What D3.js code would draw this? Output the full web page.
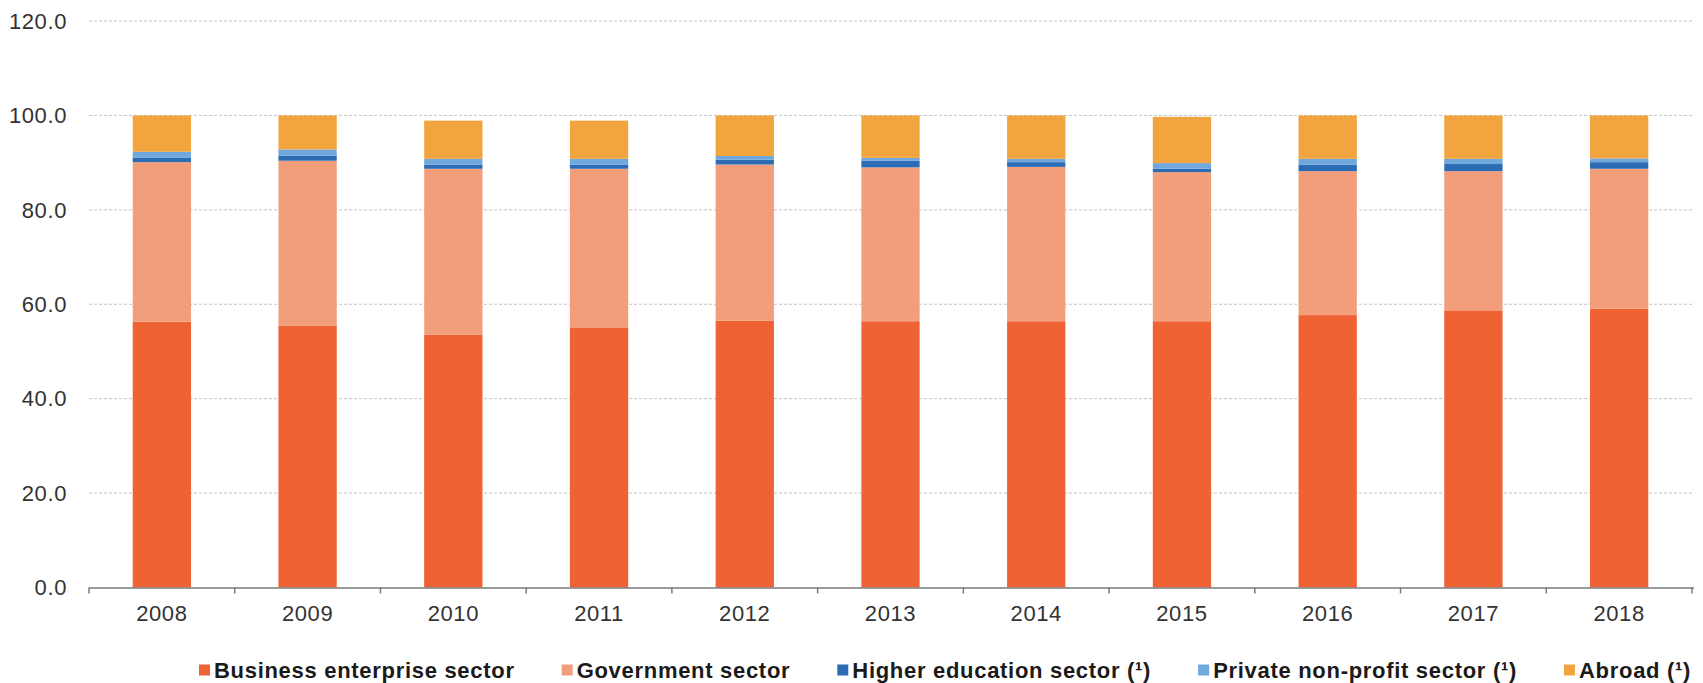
<!DOCTYPE html>
<html>
<head>
<meta charset="utf-8">
<script src="https://cdn.jsdelivr.net/npm/d3@7"></script>
<style>
    body { margin: 0; background: #ffffff; }
    svg text { font-family: "Liberation Sans", Arial, sans-serif; }
    .grid line { stroke: #c4c4c4; stroke-dasharray: 3,2; stroke-width: 1; }
    .tickLabel { font-size: 22px; fill: #333333; letter-spacing: 0.6px; }
    .legendLabel { font-size: 22px; font-weight: bold; fill: #1a1a1a; letter-spacing: 0.7px; }
</style>
</head>
<body>
<svg id="chart" width="1703" height="683"></svg>
<script>

// Years on the x axis
var years = ["2008", "2009", "2010", "2011", "2012", "2013", "2014", "2015", "2016", "2017", "2018"];

// Share (%) of each sector
var business   = [56.3, 55.5, 53.6, 55.1, 56.5, 56.4, 56.4, 56.4, 57.7, 58.7, 59.1];
var government = [33.8, 34.9, 35.1, 33.6, 33.1, 32.6, 32.7, 31.6, 30.5, 29.5, 29.6];
var higherEdu  = [0.9, 1.1, 0.9, 0.9, 1.0, 1.4, 1.0, 0.7, 1.4, 1.5, 1.4];
var privateNp  = [1.3, 1.3, 1.2, 1.2, 0.8, 0.6, 0.7, 1.2, 1.2, 1.1, 0.8];
var abroad     = [7.7, 7.2, 8.1, 8.1, 8.6, 9.0, 9.2, 9.8, 9.2, 9.2, 9.1];

var seriesNames = ["Business enterprise sector", "Government sector",
    "Higher education sector (\u00B9)", "Private non-profit sector (\u00B9)", "Abroad (\u00B9)"];
var seriesColors = ["#ee6234", "#f29e7a", "#2b6cb5", "#70a7dc", "#f2a53e"];

var yTicks = [0, 20, 40, 60, 80, 100, 120];


function drawChart() {

    var svg = d3.select("#chart");

    var left = 89,
        right = 1692,
        top = 21,
        bottom = 587.5;

    // build rows for the stack layout
    var keys = ["business", "government", "higher", "private", "abroad"];
    var rows = years.map(function (y, i) {
        return {
            year: y,
            business: business[i],
            government: government[i],
            higher: higherEdu[i],
            private: privateNp[i],
            abroad: abroad[i]
        };
    });
    var stacked = d3.stack().keys(keys)(rows);

    var xScale = d3.scaleBand()
        .domain(years)
        .range([left, right])
        .paddingInner(0.6)
        .paddingOuter(0.3);

    var yScale = d3.scaleLinear()
        .domain([0, 120])
        .range([bottom, top]);

    // dashed gridlines (not at zero, the axis sits there)
    svg.append("g")
        .attr("class", "grid")
        .selectAll("line")
        .data(yTicks.filter(function (d) { return d > 0; }))
        .enter()
        .append("line")
        .attr("x1", left)
        .attr("x2", right + 2)
        .attr("y1", function (d) { return yScale(d); })
        .attr("y2", function (d) { return yScale(d); });

    // y tick labels
    svg.append("g")
        .selectAll("text")
        .data(yTicks)
        .enter()
        .append("text")
        .attr("class", "tickLabel")
        .attr("x", 67)
        .attr("y", function (d) { return yScale(d); })
        .attr("dy", "0.35em")
        .attr("text-anchor", "end")
        .text(function (d) { return d3.format(".1f")(d); });

    // stacked bars
    svg.append("g")
        .selectAll("g")
        .data(stacked)
        .enter()
        .append("g")
        .attr("fill", function (d, i) { return seriesColors[i]; })
        .selectAll("rect")
        .data(function (d) { return d; })
        .enter()
        .append("rect")
        .attr("x", function (d) { return xScale(d.data.year); })
        .attr("width", xScale.bandwidth())
        .attr("y", function (d) { return yScale(d[1]); })
        .attr("height", function (d) { return yScale(d[0]) - yScale(d[1]); });

    // x axis with ticks between the categories
    var xAxis = svg.append("g");
    xAxis.append("line")
        .attr("x1", left)
        .attr("x2", right + 2)
        .attr("y1", bottom + 0.5)
        .attr("y2", bottom + 0.5)
        .attr("stroke", "#7a7a7a")
        .attr("stroke-width", 1.5);

    var step = xScale.step();
    var boundaries = d3.range(years.length + 1).map(function (i) { return left + i * step; });
    xAxis.selectAll(".xtick")
        .data(boundaries)
        .enter()
        .append("line")
        .attr("class", "xtick")
        .attr("x1", function (d) { return d; })
        .attr("x2", function (d) { return d; })
        .attr("y1", bottom)
        .attr("y2", bottom + 6)
        .attr("stroke", "#7a7a7a")
        .attr("stroke-width", 1.5);

    xAxis.selectAll(".tickLabel")
        .data(years)
        .enter()
        .append("text")
        .attr("class", "tickLabel")
        .attr("x", function (d) { return xScale(d) + xScale.bandwidth() / 2; })
        .attr("y", 621)
        .attr("text-anchor", "middle")
        .text(function (d) { return d; });

    // legend, laid out from the text widths
    var legend = svg.append("g");
    var xPos = 199;
    seriesNames.forEach(function (name, i) {
        legend.append("rect")
            .attr("x", xPos)
            .attr("y", 664.5)
            .attr("width", 11)
            .attr("height", 11)
            .attr("fill", seriesColors[i]);
        var label = legend.append("text")
            .attr("class", "legendLabel")
            .attr("x", xPos + 15)
            .attr("y", 670)
            .attr("dy", "0.35em")
            .text(name);
        xPos = xPos + 15 + label.node().getComputedTextLength() + 47;
    });
}

drawChart();
</script>
</body>
</html>
